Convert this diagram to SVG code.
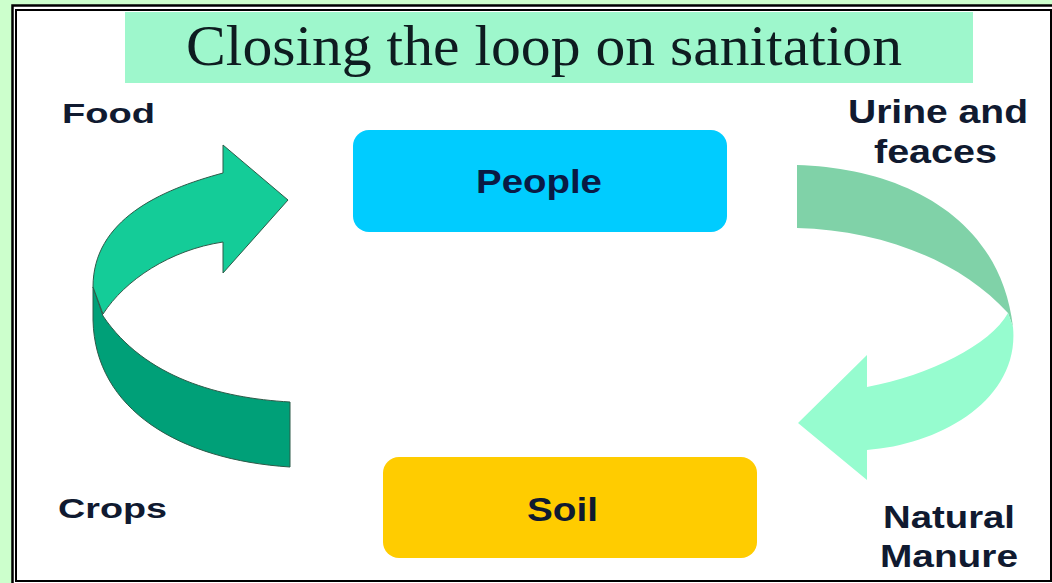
<svg xmlns="http://www.w3.org/2000/svg" width="1052" height="583" viewBox="0 0 1052 583">
<style>
.lbl{font-family:"Liberation Sans",Arial,sans-serif;font-weight:bold;fill:#101a30;}
.title{font-family:"Liberation Serif","Times New Roman",serif;fill:#0e1c20;}
.box{stroke:none;}
.ol{stroke:#2d5a48;stroke-width:1;stroke-linejoin:round;}
</style>
<rect x="0" y="0" width="1052" height="583" fill="#ccffcc"/>
<rect x="12.5" y="5.5" width="1050" height="590" fill="#ffffff" stroke="#000" stroke-width="2.5"/>
<rect x="16" y="10" width="1035" height="571" fill="#ffffff" stroke="#000" stroke-width="2"/>
<g id="title">
<rect x="125" y="12" width="848" height="71" fill="#9ef7cc"/>
<text class="title" x="186" y="65" font-size="56" textLength="716" lengthAdjust="spacingAndGlyphs">Closing the loop on sanitation</text>
</g>
<g id="connectors">
<g id="arrow-crops-food">
<path class="ol" fill="#00a078" d="M93,287 L103,316 C145,378 220,398 290,402 L290,467 C180,460 95,410 93,320 Z"/>
<path class="ol" fill="#14cc98" d="M93,287 C93,220 160,190 223,173 L223,145 L288,200 L223,273 L223,242 C170,250 125,280 103,314 Z"/>
</g>
<g id="arrow-urine-manure">
<path fill="#80d2a8" d="M797,165 C900,168 1000,215 1013,327 L1008,313 C960,260 880,230 797,228 Z"/>
<path fill="#96fccf" d="M1008,313 L1013,327 C1020,400 940,445 867,450 L867,480 L798,423 L867,355 L867,387 C930,375 990,345 1008,313 Z"/>
</g>
</g>
<g id="node-people">
<rect class="box" x="353" y="130" width="374" height="102" rx="16" fill="#00ccff"/>
<text class="lbl" x="476" y="193" font-size="34" textLength="126" lengthAdjust="spacingAndGlyphs" style="fill:#0a1a44">People</text>
</g>
<g id="node-soil">
<rect class="box" x="383" y="457" width="374" height="101" rx="16" fill="#ffcc00"/>
<text class="lbl" x="527" y="521" font-size="33" textLength="71" lengthAdjust="spacingAndGlyphs">Soil</text>
</g>
<g id="label-food">
<text class="lbl" x="62" y="123" font-size="28" textLength="93" lengthAdjust="spacingAndGlyphs">Food</text>
</g>
<g id="label-urine">
<text class="lbl" x="848" y="123" font-size="33" textLength="180" lengthAdjust="spacingAndGlyphs">Urine and</text>
<text class="lbl" x="874" y="163" font-size="33" textLength="123" lengthAdjust="spacingAndGlyphs">feaces</text>
</g>
<g id="label-crops">
<text class="lbl" x="58" y="518" font-size="28" textLength="109" lengthAdjust="spacingAndGlyphs">Crops</text>
</g>
<g id="label-manure">
<text class="lbl" x="883" y="528" font-size="32" textLength="132" lengthAdjust="spacingAndGlyphs">Natural</text>
<text class="lbl" x="880" y="567" font-size="32" textLength="138" lengthAdjust="spacingAndGlyphs">Manure</text>
</g>
</svg>
